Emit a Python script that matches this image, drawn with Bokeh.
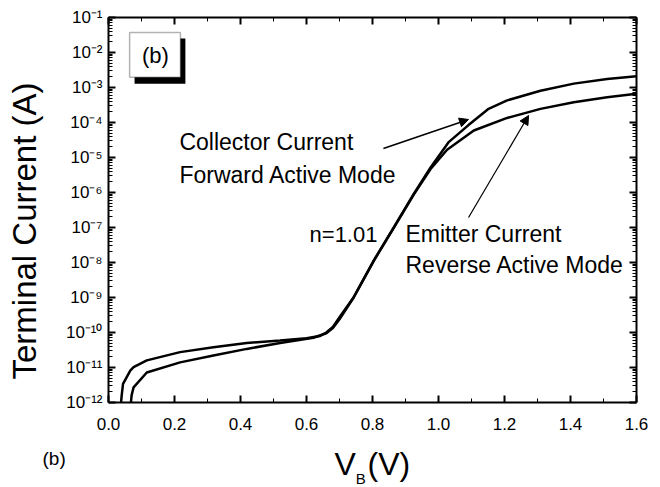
import math
from bokeh.plotting import figure
from bokeh.models import (LinearAxis, LogAxis, FixedTicker, CustomJSTickFormatter,
                          PrintfTickFormatter, Label, Arrow, NormalHead, BoxAnnotation)
from bokeh.embed import file_html
from bokeh.resources import INLINE

# ---------------- data ----------------
# Collector current (forward active mode) - upper curve at high V_B
v_collector = [0.038, 0.040, 0.044, 0.066, 0.076, 0.116, 0.217, 0.318, 0.419, 0.520, 0.600,
               0.640, 0.660, 0.680, 0.700, 0.743, 0.804, 0.865, 0.925, 0.976, 1.030,
               1.090, 1.150, 1.208, 1.309, 1.410, 1.511, 1.600]
i_collector = [1e-12, 1.6e-12, 3.4e-12, 8.1e-12, 1.02e-11, 1.6e-11, 2.75e-11, 3.8e-11, 5.0e-11, 5.9e-11, 6.9e-11,
               7.9e-11, 1.0e-10, 1.45e-10, 2.75e-10, 1.02e-9, 1.15e-8, 1.02e-7, 9.1e-7, 5.2e-6, 2.7e-5,
               8.3e-5, 2.4e-4, 4.3e-4, 8.1e-4, 1.29e-3, 1.74e-3, 2.1e-3]

# Emitter current (reverse active mode) - lower curve at high V_B
v_emitter = [0.068, 0.070, 0.076, 0.116, 0.217, 0.318, 0.419, 0.520, 0.621, 0.660,
             0.680, 0.700, 0.743, 0.804, 0.865, 0.925, 0.976, 1.026, 1.107, 1.208,
             1.309, 1.410, 1.511, 1.600]
i_emitter = [1e-12, 1.6e-12, 2.7e-12, 7.2e-12, 1.4e-11, 2.2e-11, 3.4e-11, 5.0e-11, 7.1e-11, 9.5e-11,
             1.35e-10, 2.4e-10, 1.0e-9, 1.12e-8, 1.0e-7, 8.7e-7, 4.7e-6, 1.66e-5, 5.9e-5, 1.35e-4,
             2.45e-4, 3.8e-4, 5.25e-4, 6.6e-4]

x_major_ticks = [0.0, 0.2, 0.4, 0.6, 0.8, 1.0, 1.2, 1.4, 1.6]
x_minor_ticks = [0.1, 0.3, 0.5, 0.7, 0.9, 1.1, 1.3, 1.5]
y_exponents = [-12, -11, -10, -9, -8, -7, -6, -5, -4, -3, -2, -1]
y_major_ticks = [10.0 ** e for e in y_exponents]
y_minor_ticks = [m * 10.0 ** e for e in y_exponents[:-1] for m in range(2, 10)]

X_MIN, X_MAX = 0.0, 1.6
Y_MIN, Y_MAX = 1e-12, 1e-1

FONT = "Liberation Sans"

# The frame covers the whole canvas so that texts placed outside the axes box are not
# clipped; the four axes are pinned to the edges of the data box.
PX_PER_V = 528 / (X_MAX - X_MIN)
PX_PER_DEC = 385 / 11.0
x_view = (X_MIN - 108 / PX_PER_V, X_MAX + 24 / PX_PER_V)
y_view = (Y_MIN * 10 ** (-85 / PX_PER_DEC), Y_MAX * 10 ** (17 / PX_PER_DEC))

p = figure(width=660, height=487, output_backend="svg", toolbar_location=None,
           x_range=x_view, y_range=y_view, y_axis_type="log",
           min_border_left=0, min_border_right=0, min_border_top=0, min_border_bottom=0)
p.xgrid.visible = False
p.ygrid.visible = False
p.outline_line_color = None
p.background_fill_color = "white"
p.border_fill_color = "white"

sup_code = """
const sup = {'-':'\\u207B','0':'\\u2070','1':'\\u00B9','2':'\\u00B2','3':'\\u00B3','4':'\\u2074',
             '5':'\\u2075','6':'\\u2076','7':'\\u2077','8':'\\u2078','9':'\\u2079'};
const e = Math.round(Math.log10(tick));
return '10' + String(e).split('').map(c => sup[c]).join('');
"""
blank = CustomJSTickFormatter(code="return '';")


def style_axis(ax, show_labels, standoff):
    ax.axis_line_width = 2
    ax.axis_line_color = "black"
    ax.major_tick_in = 7
    ax.major_tick_out = 0
    ax.minor_tick_in = 4
    ax.minor_tick_out = 0
    ax.major_tick_line_width = 2
    ax.minor_tick_line_width = 1
    ax.major_tick_line_color = "black"
    ax.minor_tick_line_color = "black"
    ax.major_label_text_font = FONT
    ax.major_label_text_font_size = "17px" if show_labels else "0px"
    ax.major_label_text_color = "black"
    ax.major_label_standoff = standoff


xt = FixedTicker(ticks=x_major_ticks, minor_ticks=x_minor_ticks)
yt = FixedTicker(ticks=y_major_ticks, minor_ticks=y_minor_ticks)

xa = p.xaxis[0]
xa.ticker = xt
xa.formatter = PrintfTickFormatter(format="%.1f")
xa.fixed_location = Y_MIN
xa.bounds = (X_MIN, X_MAX)
style_axis(xa, True, 15)

ya = p.yaxis[0]
ya.ticker = yt
ya.formatter = CustomJSTickFormatter(code=sup_code)
ya.fixed_location = X_MIN
ya.bounds = (Y_MIN, Y_MAX)
style_axis(ya, True, 6)

top = LinearAxis(ticker=xt, formatter=blank, bounds=(X_MIN, X_MAX), fixed_location=Y_MAX)
style_axis(top, False, 0)
p.add_layout(top, "above")
right = LogAxis(ticker=yt, formatter=blank, bounds=(Y_MIN, Y_MAX), fixed_location=X_MAX)
style_axis(right, False, 0)
p.add_layout(right, "right")

# curves
p.line(v_collector, i_collector, line_color="black", line_width=2.5)
p.line(v_emitter, i_emitter, line_color="black", line_width=2.5)

# "(b)" framed box with shadow
p.add_layout(BoxAnnotation(left=0.079, right=0.233, top=10 ** -1.6, bottom=10 ** -2.89,
                           fill_color="black", fill_alpha=1, line_color=None))
p.add_layout(BoxAnnotation(left=0.064, right=0.218, top=10 ** -1.43, bottom=10 ** -2.71,
                           fill_color="white", fill_alpha=1, line_color="black", line_width=1.5))


def lab(x, y, text, size, align="left", angle=0):
    p.add_layout(Label(x=x, y=y, text=text, text_font=FONT, text_font_size=size,
                       text_color="black", text_align=align, text_baseline="middle",
                       angle=angle))


lab(0.142, 10 ** -2.086, "(b)", "22px", align="center")
lab(0.215, 10 ** -4.543, "Collector Current", "23px")
lab(0.215, 10 ** -5.491, "Forward Active Mode", "23px")
lab(0.815, 10 ** -7.186, "n=1.01", "22px", align="right")
lab(0.900, 10 ** -7.186, "Emitter Current", "23px")
lab(0.900, 10 ** -8.080, "Reverse Active Mode", "23px")

# arrows
p.add_layout(Arrow(end=NormalHead(size=9, fill_color="black", line_color="black"),
                   x_start=0.833, y_start=10 ** -4.743, x_end=1.091, y_end=10 ** -3.914,
                   line_color="black", line_width=1.5))
p.add_layout(Arrow(end=NormalHead(size=9, fill_color="black", line_color="black"),
                   x_start=1.091, y_start=10 ** -6.714, x_end=1.273, y_end=10 ** -3.8,
                   line_color="black", line_width=1.2))

# axis titles and the panel tag
lab(-0.2545, 10 ** -7.1, "Terminal Current (A)", "33px", align="center", angle=math.pi / 2)
lab(0.685, 10 ** -13.743, "V", "32px")
lab(0.749, 10 ** -14.17, "B", "15px")
lab(0.785, 10 ** -13.743, "(V)", "32px")
lab(-0.200, 10 ** -13.586, "(b)", "19px")

with open("out.html", "w", encoding="utf-8") as f:
    f.write(file_html(p, INLINE))
